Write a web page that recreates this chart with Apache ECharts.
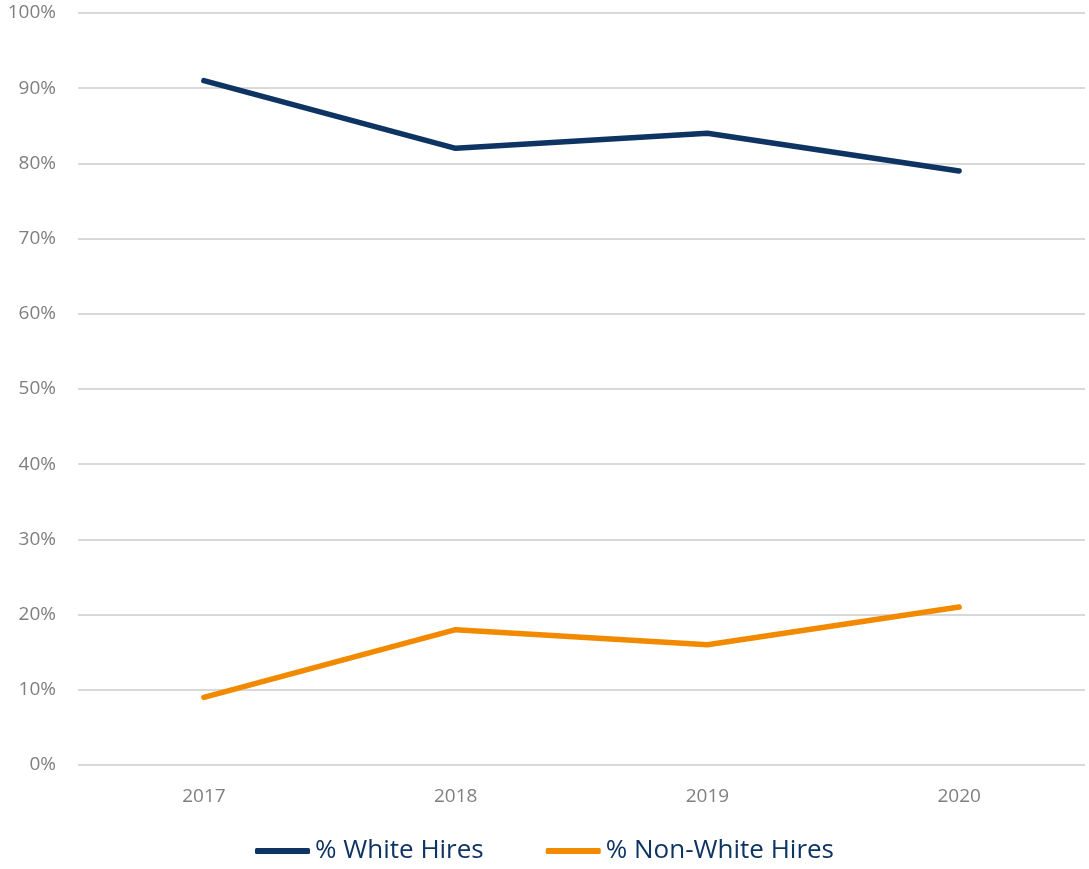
<!DOCTYPE html>
<html><head><meta charset="utf-8">
<script src="https://cdn.jsdelivr.net/npm/echarts@6/dist/echarts.min.js"></script>
<style>html,body{margin:0;padding:0;background:#fff}#c{width:1089px;height:869px}</style>
</head><body><div id="c"></div>
<script>
const categories = ['2017','2018','2019','2020'];
const whiteHires = [91, 82, 84, 79];
const nonWhiteHires = [9, 18, 16, 21];
const seriesNames = ['% White Hires', '% Non-White Hires'];

const chart = echarts.init(document.getElementById('c'));
chart.setOption({
  animation: false,
  textStyle: {fontFamily: 'Open Sans'},
  grid: {left: 78, right: 4, top: 13, bottom: 104, containLabel: false},
  legend: {
    top: 833, left: 'center', itemWidth: 55, itemHeight: 6, itemGap: 62,
    icon: 'roundRect',
    textStyle: {color: '#0e3463', fontSize: 26, fontFamily: 'Open Sans'},
    data: seriesNames
  },
  xAxis: {
    type: 'category', data: categories, boundaryGap: true,
    axisLine: {show: false}, axisTick: {show: false},
    axisLabel: {color: '#7f7f7f', fontSize: 19, margin: 22}
  },
  yAxis: {
    type: 'value', min: 0, max: 100, interval: 10,
    axisLine: {show: false}, axisTick: {show: false},
    axisLabel: {color: '#7f7f7f', fontSize: 19, margin: 22, formatter: '{value}%'},
    splitLine: {lineStyle: {color: '#d9d9d9', width: 2}}
  },
  series: [
    {name: seriesNames[0], type: 'line', data: whiteHires, symbol: 'none',
     lineStyle: {color: '#0e3463', width: 5.5, cap: 'round'}, itemStyle: {color: '#0e3463'}},
    {name: seriesNames[1], type: 'line', data: nonWhiteHires, symbol: 'none',
     lineStyle: {color: '#f28a00', width: 5.5, cap: 'round'}, itemStyle: {color: '#f28a00'}}
  ]
});
</script></body></html>
